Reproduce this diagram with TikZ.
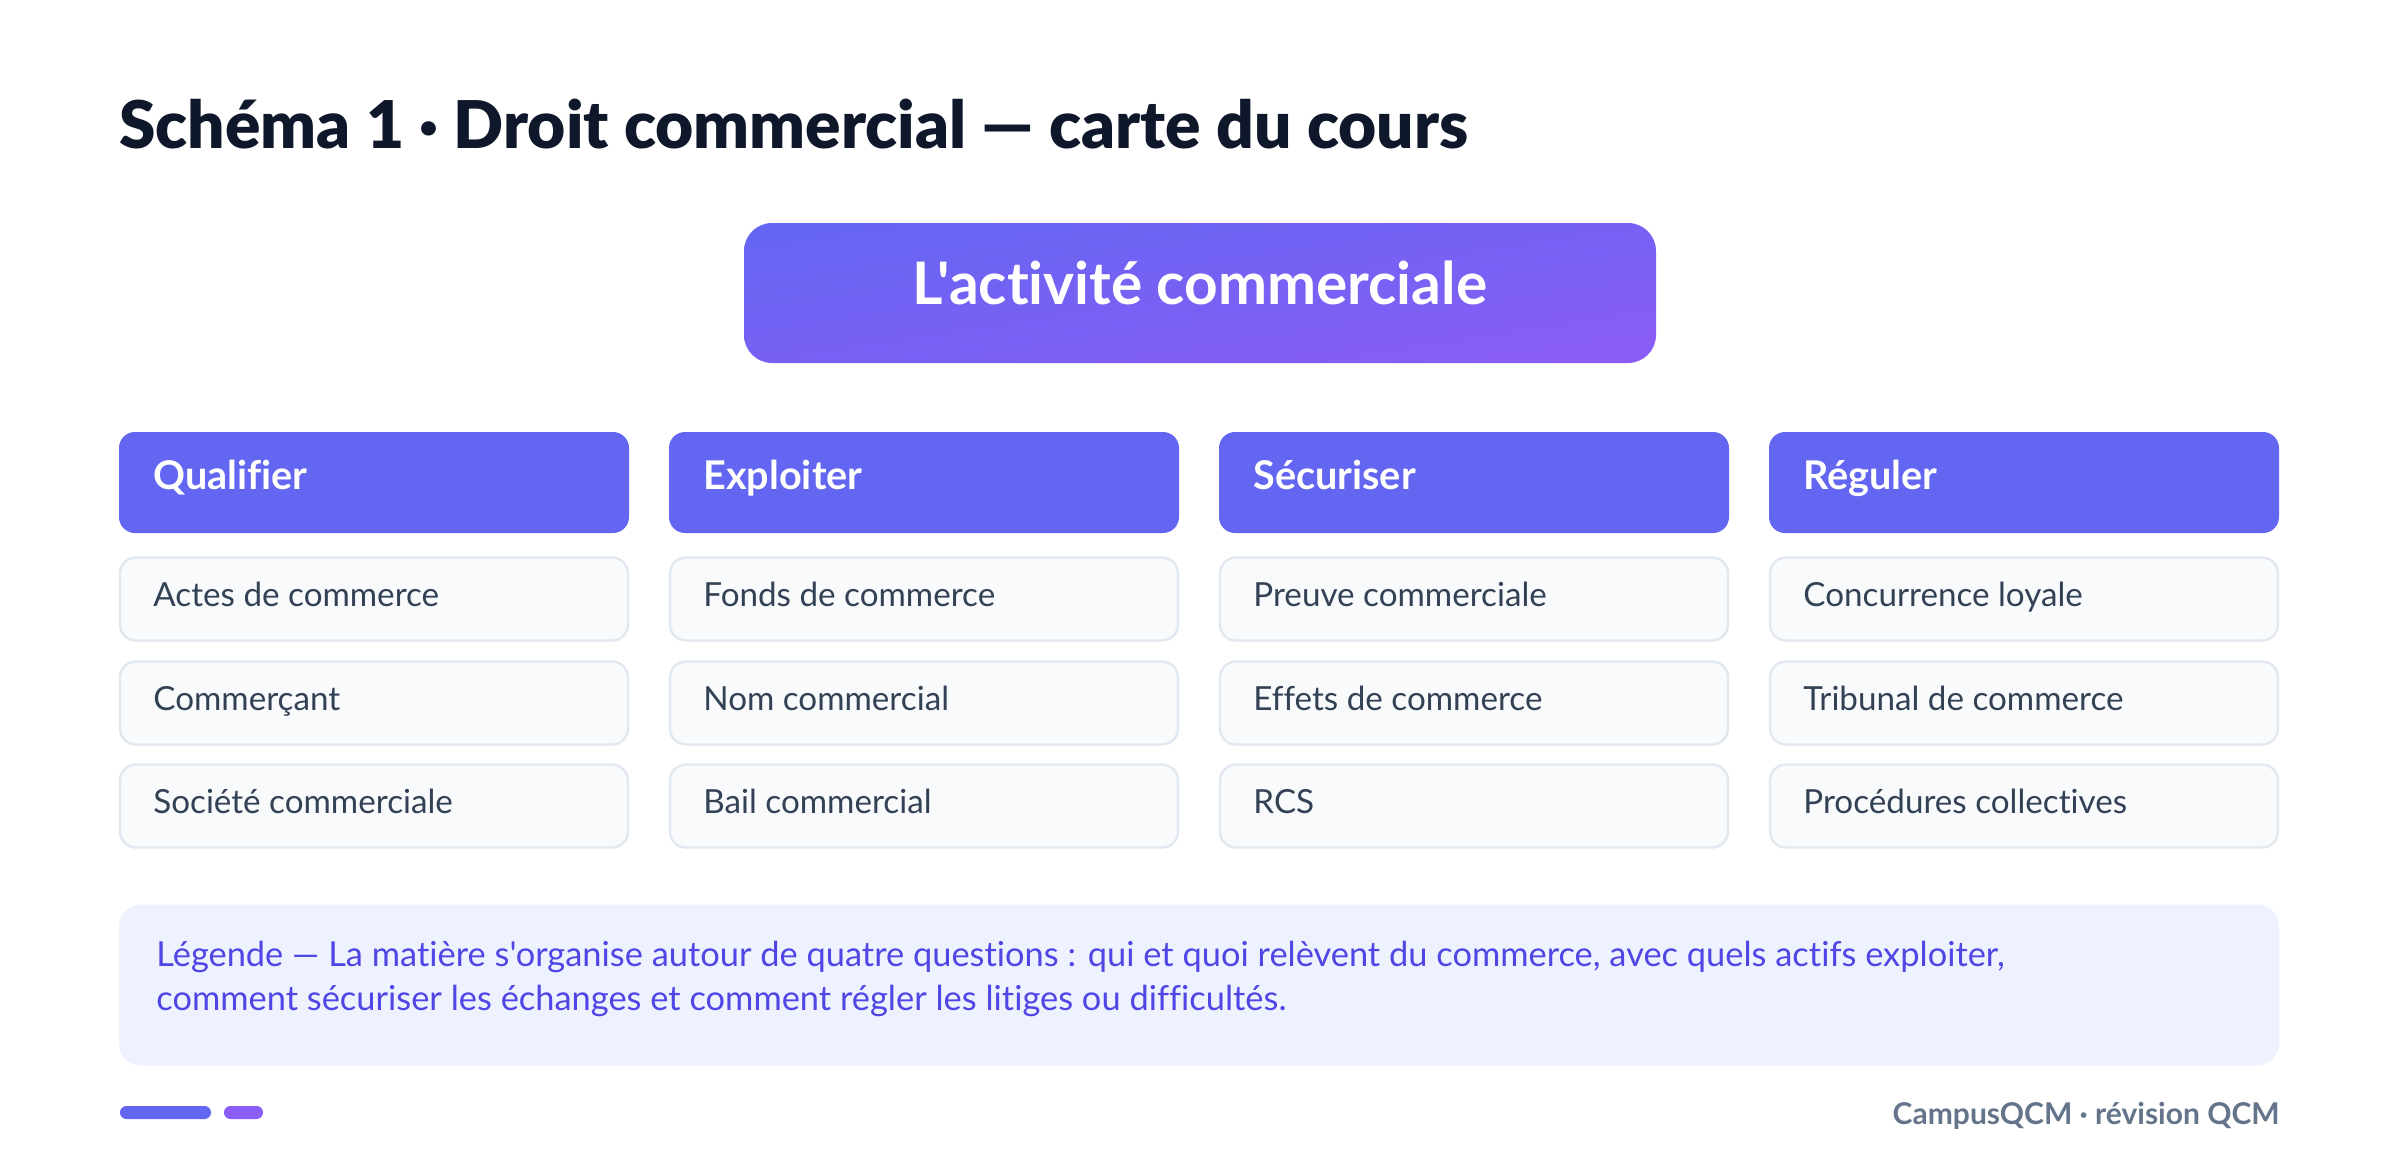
\documentclass[tikz,border=0pt]{standalone}
\usepackage{fontspec}
\usetikzlibrary{shadings}
\setmainfont{Lato}[Ligatures={TeXOff,CommonOff}]
\newfontfamily\blackfont{Lato}[UprightFont={* Black},Ligatures={TeXOff,CommonOff}]
\definecolor{ink}{HTML}{0F172A}
\definecolor{indigoA}{HTML}{6366F1}
\definecolor{violetA}{HTML}{8B5CF6}
\colorlet{midA}{indigoA!50!violetA}
\definecolor{itemfill}{HTML}{F8FAFC}
\definecolor{itemline}{HTML}{E2E8F0}
\definecolor{itemtext}{HTML}{334155}
\definecolor{legfill}{HTML}{EEF2FF}
\definecolor{legtext}{HTML}{4F46E5}
\definecolor{foot}{HTML}{64748B}
\tikzset{
  rootbox/.style={rectangle, rounded corners=14pt, minimum width=456pt, minimum height=70pt,
    upper left=indigoA, upper right=midA, lower left=midA, lower right=violetA, draw=none, inner sep=0pt},
  headbox/.style={rectangle, rounded corners=8pt, minimum width=255pt, minimum height=50.5pt,
    fill=indigoA, draw=none, inner sep=0pt},
  itembox/.style={rectangle, rounded corners=8pt, minimum width=254pt, minimum height=41.5pt,
    fill=itemfill, draw=itemline, line width=1.2pt, inner sep=0pt},
  legbox/.style={rectangle, rounded corners=11pt, minimum width=1080pt, minimum height=80.5pt,
    fill=legfill, draw=none, inner sep=0pt},
  headtxt/.style={anchor=base west, inner sep=0pt, text=white, font=\fontsize{19.8}{23}\selectfont\bfseries},
  itemtxt/.style={anchor=base west, inner sep=0pt, text=itemtext, font=\fontsize{16.6}{19}\selectfont},
  legtxt/.style={anchor=base west, inner sep=0pt, text=legtext, font=\fontsize{17.2}{21}\selectfont},
}
\begin{document}
\begin{tikzpicture}[x=0.5pt,y=-0.5pt]
\useasboundingbox (0,0) rectangle (2400,1174);
\fill[white] (0,0) rectangle (2400,1174);

\node[anchor=base west, inner sep=0pt, text=ink, font=\fontsize{32.9}{38}\selectfont\blackfont] (title) at (119,148) {Schéma 1 · Droit commercial — carte du cours};

\node[rootbox] (root) at (1200,293) {};
\node[anchor=base, inner sep=0pt, text=white, font=\fontsize{29.3}{34}\selectfont\bfseries] (roottxt) at (1200,304) {L'activité commerciale};

% column headers
\node[headbox] (h1) at (374,482.5) {};
\node[headbox] (h2) at (924,482.5) {};
\node[headbox] (h3) at (1474,482.5) {};
\node[headbox] (h4) at (2024,482.5) {};
\node[headtxt] (h1t) at (153,489) {Qualifier};
\node[headtxt] (h2t) at (703,489) {Exploiter};
\node[headtxt] (h3t) at (1253,489) {Sécuriser};
\node[headtxt] (h4t) at (1803,489) {Réguler};

% items
\foreach \c/\x/\a/\b/\d in {1/374/Actes de commerce/Commerçant/Société commerciale,
                             2/924/Fonds de commerce/Nom commercial/Bail commercial,
                             3/1474/Preuve commerciale/Effets de commerce/RCS,
                             4/2024/Concurrence loyale/Tribunal de commerce/Procédures collectives}{
  \node[itembox] (i\c a) at (\x,599) {};
  \node[itembox] (i\c b) at (\x,703) {};
  \node[itembox] (i\c c) at (\x,806) {};
  \node[itemtxt] (i\c at) at (\x-221,606) {\a};
  \node[itemtxt] (i\c bt) at (\x-221,710) {\b};
  \node[itemtxt] (i\c ct) at (\x-221,813) {\d};
}

% legend
\node[legbox] (leg) at (1199,985) {};
\node[legtxt] (legt1) at (156,966)
  {Légende — La matière s'organise autour de quatre questions : qui et quoi relèvent du commerce, avec quels actifs exploiter,};
\node[legtxt] (legt2) at (156,1010)
  {comment sécuriser les échanges et comment régler les litiges ou difficultés.};

% footer
\fill[indigoA, rounded corners=3.2pt] (120,1106) rectangle (211,1119);
\fill[violetA, rounded corners=3.2pt] (224,1106) rectangle (263,1119);
\node[anchor=base east, inner sep=0pt, text=foot, font=\fontsize{15}{18}\selectfont\bfseries] (foot) at (2280,1124) {CampusQCM · révision QCM};
\end{tikzpicture}
\end{document}
